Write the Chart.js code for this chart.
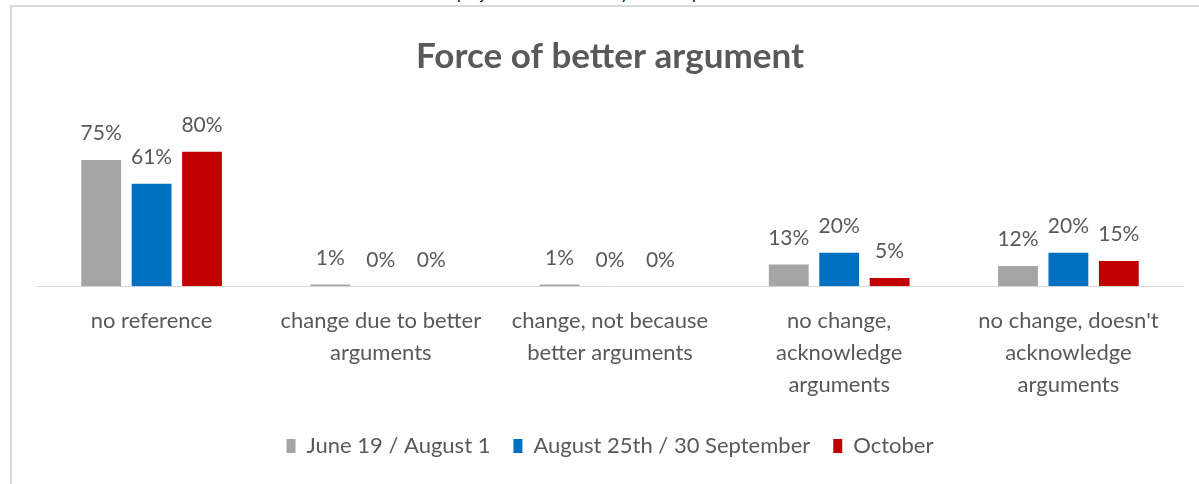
<!DOCTYPE html>
<html>
<head>
<meta charset="utf-8">
<script src="https://cdn.jsdelivr.net/npm/chart.js@4/dist/chart.umd.min.js"></script>
<style>
    html, body { margin: 0; padding: 0; background: #fff; overflow: hidden; }
    #wrap { position: relative; width: 1199px; height: 484px; }
    #frame {
        position: absolute; left: 10px; top: 5px; width: 1300px; height: 600px;
        border: 2px solid #D9D9D9; box-sizing: border-box;
    }
    #caption {
        position: absolute; left: 0; width: 1199px; top: -17px; text-align: center;
        font: 16px Lato, sans-serif; color: #000;
    }
    canvas { position: absolute; left: 0; top: 0; }
</style>
</head>
<body>
<div id="wrap">
    <div id="caption">The project is co-financed by the European Union</div>
    <div id="frame"></div>
    <canvas id="forceChart" width="1199" height="484"></canvas>
</div>
<script>
var categories = [
    "no reference",
    ["change due to better", "arguments"],
    ["change, not because", "better arguments"],
    ["no change,", "acknowledge", "arguments"],
    ["no change, doesn't", "acknowledge", "arguments"]
];
var juneAugust = [75, 1, 1, 13, 12];
var augustSeptember = [61, 0, 0, 20, 20];
var october = [80, 0, 0, 5, 15];

var textGrey = "#595959";

// percentage labels above each bar
var valueLabels = {
    id: "valueLabels",
    afterDatasetsDraw: function(chart) {
        var ctx = chart.ctx;
        ctx.save();
        ctx.font = "21px Lato";
        ctx.fillStyle = textGrey;
        ctx.textAlign = "center";
        ctx.textBaseline = "bottom";
        chart.data.datasets.forEach(function(ds, i) {
            chart.getDatasetMeta(i).data.forEach(function(bar, j) {
                ctx.fillText(ds.data[j] + "%", bar.x, bar.y - 16);
            });
        });
        ctx.restore();
    }
};

Chart.defaults.font.family = "Lato";
Chart.defaults.color = textGrey;

new Chart(document.getElementById("forceChart"), {
    type: "bar",
    data: {
        labels: categories,
        datasets: [{
            label: "June 19 / August 1",
            data: juneAugust,
            backgroundColor: "#A5A5A5"
        }, {
            label: "August 25th / 30 September",
            data: augustSeptember,
            backgroundColor: "#0070C0"
        }, {
            label: "October",
            data: october,
            backgroundColor: "#C00000"
        }]
    },
    options: {
        responsive: false,
        animation: false,
        events: [],
        categoryPercentage: 0.66,
        barPercentage: 0.79,
        layout: { padding: { left: 37, right: 16, top: 0, bottom: 17 } },
        plugins: {
            title: {
                display: true,
                text: "Force of better argument",
                color: textGrey,
                font: { size: 35, weight: "bold" },
                padding: { top: 36, bottom: 40 }
            },
            legend: {
                position: "bottom",
                labels: {
                    boxWidth: 9,
                    boxHeight: 14,
                    padding: 23,
                    color: textGrey,
                    font: { size: 22 }
                }
            },
            tooltip: { enabled: false }
        },
        scales: {
            x: {
                grid: { display: false },
                border: { display: true, color: "#D9D9D9", width: 1 },
                ticks: {
                    padding: 11,
                    color: textGrey,
                    maxRotation: 0,
                    font: { size: 22, lineHeight: 1.45 }
                }
            },
            y: {
                display: false,
                min: 0,
                max: 100
            }
        }
    },
    plugins: [valueLabels]
});
</script>
</body>
</html>
